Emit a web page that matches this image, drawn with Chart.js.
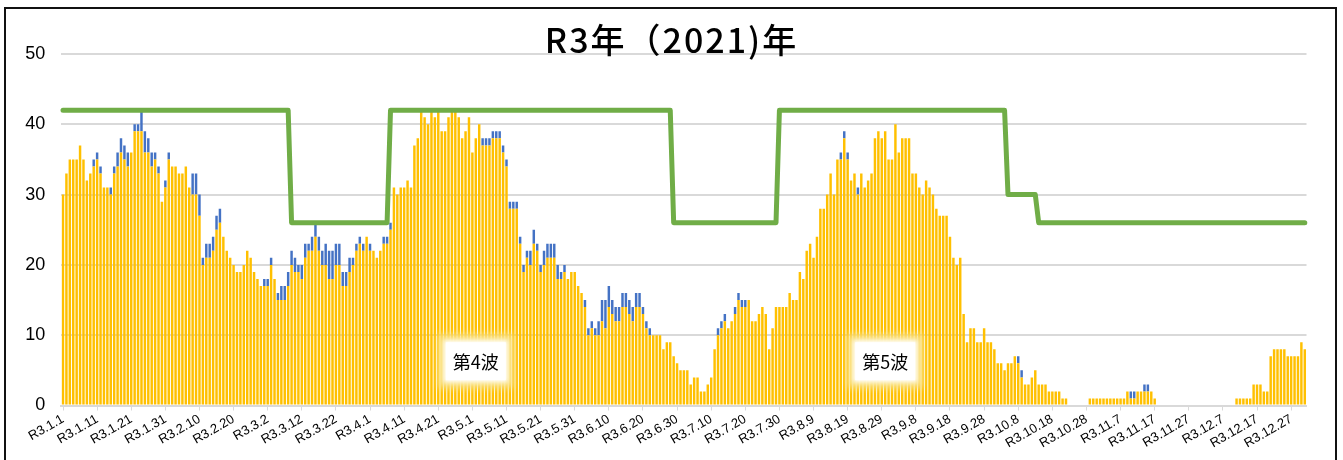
<!DOCTYPE html>
<html lang="ja">
<head>
<meta charset="UTF-8">
<title>R3年 (2021)年</title>
<style>
  html, body { margin: 0; padding: 0; background: #fff; overflow: hidden; }
  #wrap { position: absolute; left: 0; top: 0; width: 1343px; height: 460px; }
  #frame { position: absolute; left: 4px; top: 7px; width: 1333px; height: 480px;
           border: 2px solid #111; box-sizing: border-box; pointer-events: none; }
</style>
</head>
<body>
<div id="wrap"><canvas id="chart"></canvas></div>
<div id="frame"></div>

<script src="https://cdn.jsdelivr.net/npm/chart.js"></script>
<script>
// 2021年の日別データ（R3.1.1 〜 R3.12.31）
const titleText = 'R3年（2021)年';

// 黄色の棒
const yellowValues = [
  30,33,35,35,35,37,35,32,33,34, 35,33,31,31,30,33,34,36,35,34,
  36,39,39,39,36,36,34,35,33,29, 31,35,34,34,33,33,34,31,30,30,
  27,20,21,21,22,25,26,24,22,21, 20,19,19,20,22,21,19,18,17,17,
  17,20,18,15,15,15,17,20,19,19, 18,21,22,22,24,22,20,20,18,18,
  20,20,17,17,19,20,22,23,22,24, 22,22,21,22,23,23,25,31,30,31,
  31,32,31,37,38,42,41,40,42,41, 42,39,39,41,42,42,41,38,39,41,
  36,38,40,37,37,37,38,38,38,36, 34,28,28,28,23,19,21,20,23,22,
  19,20,21,21,21,18,18,19,18,19, 19,17,16,14,10,11,10,10,12,11,
  14,13,12,12,14,14,13,12,14,14, 13,11,10,10,10,10,8,9,9,7,
  6,5,5,5,3,4,4,2,2,3, 4,8,10,11,12,11,12,13,15,14,
  14,15,12,12,13,14,13,8,11,14, 14,14,14,16,15,15,19,18,22,23,
  21,24,28,28,30,33,30,35,35,38, 35,32,33,30,33,31,32,33,38,39,
  38,39,35,35,40,36,38,38,38,33, 33,31,30,32,31,30,28,27,27,27,
  24,21,20,21,13,9,11,11,9,9, 11,9,9,8,6,6,5,6,6,7,
  6,4,3,3,4,5,3,3,3,2, 2,2,2,1,1,0,0,0,0,0,
  0,1,1,1,1,1,1,1,1,1, 1,1,2,1,1,2,2,2,2,2,
  1,0,0,0,0,0,0,0,0,0, 0,0,0,0,0,0,0,0,0,0,
  0,0,0,0,1,1,1,1,1,3, 3,3,2,2,7,8,8,8,8,7,
  7,7,7,9,8
];

// 青の棒（黄色の上に積み上げ）
const blueValues = [
  0,0,0,0,0,0,0,0,0,1, 1,1,0,0,1,1,2,2,2,2,
  0,1,1,3,3,2,2,1,1,0, 1,1,0,0,0,0,0,0,3,3,
  3,1,2,2,2,2,2,0,0,0, 0,0,0,0,0,0,0,0,0,1,
  1,1,0,1,2,2,2,2,2,1, 2,2,1,2,2,2,2,3,4,4,
  3,3,2,2,2,1,1,1,1,0, 1,0,0,0,1,1,1,0,0,0,
  0,0,0,0,0,0,0,0,0,0, 0,0,0,0,0,0,0,0,0,0,
  0,0,0,1,1,1,1,1,1,1, 1,1,1,1,1,1,1,2,2,1,
  1,2,2,2,2,2,1,1,0,0, 0,0,0,1,1,1,1,2,3,4,
  3,2,2,2,2,2,2,2,2,2, 1,1,1,0,0,0,0,0,0,0,
  0,0,0,0,0,0,0,0,0,0, 0,0,1,1,1,0,0,1,1,1,
  1,0,0,0,0,0,0,0,0,0, 0,0,0,0,0,0,0,0,0,0,
  0,0,0,0,0,0,0,0,1,1, 1,0,0,1,0,0,0,0,0,0,
  0,0,0,0,0,0,0,0,0,0, 0,0,0,0,0,0,0,0,0,0,
  0,0,0,0,0,0,0,0,0,0, 0,0,0,0,0,0,0,0,0,0,
  1,1,0,0,0,0,0,0,0,0, 0,0,0,0,0,0,0,0,0,0,
  0,0,0,0,0,0,0,0,0,0, 0,0,0,1,1,0,0,1,1,0,
  0,0,0,0,0,0,0,0,0,0, 0,0,0,0,0,0,0,0,0,0,
  0,0,0,0,0,0,0,0,0,0, 0,0,0,0,0,0,0,0,0,0,
  0,0,0,0,0
];

// 緑の線
const lineValues = [
  42,42,42,42,42,42,42,42,42,42, 42,42,42,42,42,42,42,42,42,42,
  42,42,42,42,42,42,42,42,42,42, 42,42,42,42,42,42,42,42,42,42,
  42,42,42,42,42,42,42,42,42,42, 42,42,42,42,42,42,42,42,42,42,
  42,42,42,42,42,42,42,26,26,26, 26,26,26,26,26,26,26,26,26,26,
  26,26,26,26,26,26,26,26,26,26, 26,26,26,26,26,26,42,42,42,42,
  42,42,42,42,42,42,42,42,42,42, 42,42,42,42,42,42,42,42,42,42,
  42,42,42,42,42,42,42,42,42,42, 42,42,42,42,42,42,42,42,42,42,
  42,42,42,42,42,42,42,42,42,42, 42,42,42,42,42,42,42,42,42,42,
  42,42,42,42,42,42,42,42,42,42, 42,42,42,42,42,42,42,42,42,26,
  26,26,26,26,26,26,26,26,26,26, 26,26,26,26,26,26,26,26,26,26,
  26,26,26,26,26,26,26,26,26,26, 42,42,42,42,42,42,42,42,42,42,
  42,42,42,42,42,42,42,42,42,42, 42,42,42,42,42,42,42,42,42,42,
  42,42,42,42,42,42,42,42,42,42, 42,42,42,42,42,42,42,42,42,42,
  42,42,42,42,42,42,42,42,42,42, 42,42,42,42,42,42,42,30,30,30,
  30,30,30,30,30,30,26,26,26,26, 26,26,26,26,26,26,26,26,26,26,
  26,26,26,26,26,26,26,26,26,26, 26,26,26,26,26,26,26,26,26,26,
  26,26,26,26,26,26,26,26,26,26, 26,26,26,26,26,26,26,26,26,26,
  26,26,26,26,26,26,26,26,26,26, 26,26,26,26,26,26,26,26,26,26,
  26,26,26,26,26
];

// 日付ラベル（R3.月.日）
const dayLabels = [];
for (let i = 0; i < yellowValues.length; i++) {
  const d = new Date(2021, 0, 1 + i);
  dayLabels.push('R3.' + (d.getMonth() + 1) + '.' + d.getDate());
}

// 波の注記
const waveNames = ['第4波', '第5波'];
const waveDays = [121, 241];
const waveLevel = 6.3;

const yTicks = [0, 10, 20, 30, 40, 50];

// タイトルはキャンバス全体の中央に置く
const titlePlugin = {
  id: 'centerTitle',
  afterDraw(chart) {
    const ctx = chart.ctx;
    ctx.save();
    ctx.fillStyle = '#000';
    ctx.font = '500 34px "Noto Sans CJK JP"';
    if ('letterSpacing' in ctx) ctx.letterSpacing = '2px';
    ctx.textAlign = 'center';
    ctx.textBaseline = 'middle';
    ctx.fillText(titleText, chart.width / 2, 40);
    ctx.restore();
  }
};

const waveLabelPlugin = {
  id: 'waveLabels',
  afterDatasetsDraw(chart) {
    const { ctx, scales: { x, y } } = chart;
    waveNames.forEach((name, k) => {
      const cx = x.getPixelForValue(waveDays[k]);
      const cy = y.getPixelForValue(waveLevel);
      ctx.save();
      // 黄色っぽいぼかし枠
      ctx.filter = 'blur(3px)';
      ctx.fillStyle = 'rgba(250, 228, 140, 0.95)';
      ctx.fillRect(cx - 38, cy - 27, 76, 54);
      ctx.filter = 'blur(2px)';
      ctx.fillStyle = '#fff';
      ctx.fillRect(cx - 32, cy - 21, 64, 42);
      ctx.filter = 'none';
      ctx.fillRect(cx - 30, cy - 19, 60, 38);
      ctx.fillStyle = '#000';
      ctx.font = '18px "Noto Sans CJK JP"';
      ctx.textAlign = 'center';
      ctx.textBaseline = 'middle';
      ctx.fillText(name, cx, cy + 1);
      ctx.restore();
    });
  }
};

new Chart(document.getElementById('chart'), {
  data: {
    labels: dayLabels,
    datasets: [
      {
        type: 'line',
        data: lineValues,
        borderColor: '#70AD47',
        borderWidth: 5,
        borderCapStyle: 'round',
        borderJoinStyle: 'round',
        pointRadius: 0,
        tension: 0,
        stack: 'line',
        order: 0
      },
      {
        type: 'bar',
        data: yellowValues,
        backgroundColor: '#FFC000',
        barPercentage: 0.72,
        categoryPercentage: 1,
        stack: 'bars',
        order: 1
      },
      {
        type: 'bar',
        data: blueValues,
        backgroundColor: '#4472C4',
        barPercentage: 0.72,
        categoryPercentage: 1,
        stack: 'bars',
        order: 1
      }
    ]
  },
  options: {
    responsive: true,
    maintainAspectRatio: false,
    animation: false,
    layout: { padding: { left: 0, right: 36.5, top: 54, bottom: 0 } },
    plugins: {
      legend: { display: false },
      tooltip: { enabled: false },
      title: { display: false }
    },
    scales: {
      x: {
        stacked: true,
        offset: true,
        afterFit(scale) { scale.height = 54.5; },
        grid: {
          offset: false,
          drawOnChartArea: false,
          drawTicks: true,
          tickLength: 5,
          color: c => (c.index % 10 === 0 ? '#D9D9D9' : 'rgba(0,0,0,0)')
        },
        border: { display: true, color: '#D9D9D9', width: 2 },
        ticks: {
          autoSkip: false,
          minRotation: 30,
          maxRotation: 30,
          padding: 1,
          color: '#000',
          font: { family: '"Liberation Sans", Arial, sans-serif', size: 13 },
          callback: (v, i) => (i % 10 === 0 ? dayLabels[i] : '')
        }
      },
      y: {
        stacked: true,
        min: 0,
        max: 50,
        afterFit(scale) { scale.width = 61.3; },
        afterBuildTicks(scale) { scale.ticks = yTicks.map(v => ({ value: v })); },
        grid: { color: '#D9D9D9', lineWidth: 2, drawTicks: false },
        border: { display: false },
        ticks: {
          padding: 16,
          color: '#000',
          font: { family: '"Liberation Sans", Arial, sans-serif', size: 18 }
        }
      }
    }
  },
  plugins: [waveLabelPlugin, titlePlugin]
});
</script>
</body>
</html>
